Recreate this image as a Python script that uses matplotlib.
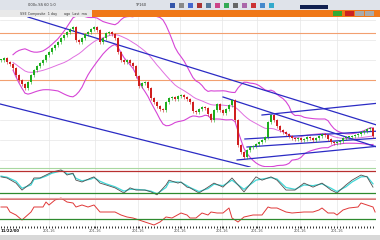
import matplotlib
matplotlib.use("Agg")
import matplotlib.pyplot as plt
import numpy as np
import pandas as pd
from matplotlib.patches import Rectangle

# 종가 (한 봉 = 약 3px), 가격 단위는 임의
closes = [110, 112, 108, 106, 102, 95, 90, 86, 82, 88, 95, 100, 104, 107, 110, 115,
          118, 122, 125, 128, 132, 135, 138, 141, 143, 130, 128, 132, 136, 138, 141,
          143, 140, 128, 132, 137, 138, 136, 132, 118, 110, 108, 110, 107, 104, 94,
          84, 87, 88, 82, 72, 68, 64, 61, 60, 68, 72, 73, 71, 74, 75, 73, 71, 68, 59,
          58, 61, 63, 62, 56, 50, 60, 66, 60, 57, 61, 65, 70, 50, 25, 18, 13, 20, 23,
          24, 26, 28, 30, 33, 48, 55, 50, 44, 40, 38, 36, 34, 32, 31, 32, 30, 31, 33,
          32, 30, 32, 34, 36, 35, 31, 28, 27, 28, 29, 32, 33, 33, 34, 35, 36, 38, 39,
          41, 42, 34]

# 수평 지지/저항선
levels = [137, 90]

# 추세선: (시작 봉, 시작 가격, 끝 봉, 끝 가격)
trend_lines = [
    (9, 153, 126.3, 44),
    (-0.3, 66, 83, 3),
    (74, 73, 126.3, 22),
    (87, 55, 126.3, 67),
    (81.3, 31, 126.3, 39),
    (82, 23, 126.3, 32),
    (78.7, 10, 126.3, 24),
]

# 스토캐스틱
stoch_x = [0, 2, 5, 7, 10, 11, 13, 15, 17, 20, 21, 22, 24, 25, 27, 30, 31, 33, 35, 38,
           41, 43, 45, 48, 50, 52, 55, 56, 59, 60, 62, 63, 66, 69, 71, 74, 77, 81, 85, 87,
           90, 92, 95, 98, 101, 104, 107, 110, 112, 115, 117, 120, 122, 124]
stoch_k = [64, 61, 47, 28, 47, 61, 61, 69, 77, 83, 77, 69, 74, 55, 50, 61, 64, 47, 42, 34,
           20, 34, 28, 28, 23, 15, 42, 55, 47, 50, 36, 34, 20, 36, 47, 36, 61, 23, 64, 55,
           64, 55, 28, 28, 47, 36, 47, 28, 20, 42, 55, 69, 64, 36]
stoch_d = [66, 63, 52, 33, 42, 57, 60, 66, 74, 80, 79, 72, 72, 60, 53, 58, 62, 52, 45, 37,
           25, 30, 30, 28, 25, 18, 35, 50, 50, 49, 40, 35, 24, 32, 44, 40, 55, 30, 55, 58,
           62, 58, 35, 30, 42, 40, 45, 33, 24, 37, 50, 64, 65, 45]

# RSI
rsi_x = [0, 2, 3, 5, 7, 10, 11, 14, 15, 16, 18, 20, 22, 24, 25, 27, 29, 31, 33, 35,
         38, 40, 42, 44, 46, 49, 51, 53, 55, 57, 60, 62, 63, 65, 67, 69, 70, 72, 74, 76,
         77, 79, 81, 84, 87, 89, 90, 92, 95, 97, 101, 104, 106, 107, 109, 111, 112, 114,
         116, 119, 120, 122, 124, 124.7]
rsi = [54, 54, 44, 38, 28, 44, 54, 54, 64, 58, 68, 72, 64, 62, 54, 58, 54, 58, 44, 44,
       44, 38, 34, 32, 28, 22, 18, 24, 34, 32, 42, 38, 32, 32, 42, 38, 44, 42, 42, 52,
       32, 24, 34, 38, 38, 54, 52, 52, 44, 42, 44, 44, 48, 52, 42, 42, 38, 48, 52, 54,
       62, 58, 54, 44]

tick_pos = [16, 31.3, 45.7, 59.7, 73.7, 85.3, 99.7, 112]
tick_labels = ["201-16", "201-16", "201-16", "201-16", "201-16", "201-16", "201-16", "201-16"]

W, H = 380, 240


def px(x0, y0, x1, y1):
    return [x0 / W, 1 - y1 / H, (x1 - x0) / W, (y1 - y0) / H]


def bare(a):
    a.set_xlim(-1 / 3, 125)
    a.set_xticks(tick_pos)
    a.tick_params(length=0, labelbottom=False, labelleft=False)
    for sp in a.spines.values():
        sp.set_visible(False)


fig = plt.figure(figsize=(3.8, 2.4), dpi=100)
fig.patch.set_facecolor("white")

# 상단 툴바 + 탭 줄
fig.add_artist(Rectangle((0, 1 - 10 / H), 1, 10 / H, transform=fig.transFigure,
                         facecolor="#dfe3ea", edgecolor="none"))
fig.add_artist(Rectangle((0, 1 - 17 / H), 1, 7 / H, transform=fig.transFigure,
                         facecolor="#e9e9e9", edgecolor="none"))
fig.add_artist(Rectangle((92 / W, 1 - 17 / H), 1 - 92 / W, 7 / H, transform=fig.transFigure,
                         facecolor="#f07818", edgecolor="none"))
icon_cols = ["#3355aa", "#888888", "#4466cc", "#aa3333", "#557799", "#cc4488", "#33aa55",
             "#666666", "#aa66aa", "#cc3333", "#4488cc", "#33aacc"]
for i, col in enumerate(icon_cols):
    fig.add_artist(Rectangle(((170 + i * 9) / W, 1 - 8 / H), 5 / W, 5 / H,
                             transform=fig.transFigure, facecolor=col, edgecolor="none"))
fig.add_artist(Rectangle((300 / W, 1 - 9 / H), 28 / W, 4 / H, transform=fig.transFigure,
                         facecolor="#102050", edgecolor="none"))
for x0, col in [(333, "#33aa33"), (345, "#cc2222"), (355, "#aaaaaa"), (365, "#aaaaaa")]:
    fig.add_artist(Rectangle((x0 / W, 1 - 16 / H), 9 / W, 5 / H, transform=fig.transFigure,
                             facecolor=col, edgecolor="none"))
fig.text(28 / W, 1 - 5 / H, "000c.SS 60 1:0", fontsize=2.6, va="center", color="#333")
fig.text(135 / W, 1 - 5 / H, "TP160", fontsize=2.6, va="center", color="#333")
fig.text(20 / W, 1 - 13.5 / H, "SSE Composite  1 day", fontsize=2.4, va="center", color="#333")
fig.text(64 / W, 1 - 13.5 / H, "ago  Last  ma", fontsize=2.4, va="center", color="#333")

# 메인 캔들 차트
ax = fig.add_axes(px(0, 17, 376, 167))
idx = np.arange(len(closes))
c = np.array(closes, dtype=float)
o = np.concatenate([[c[0]], c[:-1]])
up = c >= o
body_lo = np.minimum(o, c)
body_h = np.maximum(np.abs(c - o), 0.8)
hi = np.maximum(o, c) + 1.5
lo = body_lo - 1.5
cols = np.where(up, "#1fae1f", "#d01f1f")
ax.vlines(idx, lo, hi, colors=cols, linewidth=0.4, zorder=4)
ax.bar(idx, body_h, bottom=body_lo, width=0.45, color=cols, zorder=5)

# 볼린저 밴드 (20, 2)
s = pd.Series(c)
mid = s.rolling(20, min_periods=5).mean()
sd = s.rolling(20, min_periods=5).std()
ax.plot(idx, mid + 2 * sd, color="#d645d6", lw=0.8, zorder=3)
ax.plot(idx, mid, color="#e070e0", lw=0.7, zorder=3)
ax.plot(idx, mid - 2 * sd, color="#d645d6", lw=0.8, zorder=3)

for lv in levels:
    ax.axhline(lv, color="#f2a070", lw=0.8, zorder=2)
for x0, y0, x1, y1 in trend_lines:
    ax.plot([x0, x1], [y0, y1], color="#2b2bc4", lw=0.9, zorder=3)

ax.set_ylim(3, 153)
ax.set_yticks(np.arange(10, 153, 20))
ax.grid(True, color="#e6e6e6", lw=0.5)
bare(ax)

# 스토캐스틱 패널
ax2 = fig.add_axes(px(0, 167, 376, 196))
ax2.plot(stoch_x, stoch_d, color="#40d8d8", lw=0.9)
ax2.plot(stoch_x, stoch_k, color="#505050", lw=0.6)
ax2.axhline(80, color="#b83030", lw=0.9)
ax2.axhline(20, color="#2e8a2e", lw=0.9)
ax2.axhline(89.5, color="#a8d8a0", lw=0.8)
ax2.set_ylim(11.8, 90.9)
ax2.set_yticks([])
ax2.grid(True, axis="x", color="#e6e6e6", lw=0.5)
bare(ax2)

# RSI 패널
ax3 = fig.add_axes(px(0, 196, 376, 226))
ax3.plot(rsi_x, rsi, color="#e03838", lw=0.7)
ax3.axhline(72, color="#e8a0a0", lw=0.8)
ax3.axhline(70, color="#d06060", lw=0.6)
ax3.axhline(30, color="#2e8a2e", lw=0.9)
ax3.set_ylim(16, 76)
ax3.set_yticks([])
ax3.grid(True, axis="x", color="#e6e6e6", lw=0.5)
bare(ax3)

# 날짜 축
ax4 = fig.add_axes(px(0, 226, 376, 234))
ax4.set_ylim(0, 1)
bare(ax4)
ax4.set_xticks(idx, minor=True)
ax4.tick_params(axis="x", which="both", direction="in", top=True, bottom=False,
                labelbottom=False, labeltop=False, length=1.5, width=0.6, color="#111")
for p, lab in zip(tick_pos, tick_labels):
    ax4.text(p, 0.15, lab, fontsize=2.6, color="#555", ha="center", va="bottom")
ax4.text(0, 0.15, "11/22/00", fontsize=2.8, color="#111", ha="left", va="bottom",
         fontweight="bold")
ax4.set_yticks([])

fig.add_artist(Rectangle((0, 0), 1, 5 / H, transform=fig.transFigure,
                         facecolor="#d8d8d8", edgecolor="none"))

fig.savefig("out.png", dpi=100, facecolor="white")
